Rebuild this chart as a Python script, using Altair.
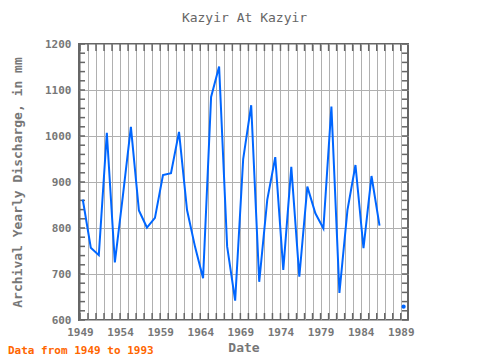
import altair as alt
import pandas as pd

# ---- data ----
years = list(range(1949, 1990))
discharge = [862, 757, 741, 1007, 725, 870, 1020, 838, 801, 822,
             915, 919, 1009, 839, 759, 691, 1085, 1151, 760, 642,
             950, 1067, 683, 861, 954, 709, 933, 694, 890, 832,
             799, 1064, 659, 839, 937, 756, 913, 805, None, None,
             629]
tick_years = list(range(1949, 1990))
label_years = list(range(1949, 1990, 5))
y_minor = list(range(600, 1201, 20))
y_major = list(range(600, 1201, 100))
title_text = "Kazyir At Kazyir"
note_text = "Data from 1949 to 1993"

W, H = 329, 276
FONT = "DejaVu Sans Mono"
GRAY = "#777777"
FRAME = "#666666"
BLUE = "#0066ff"

# build segments (break at missing years) and isolated points
rows = []
seg = 0
for y, v in zip(years, discharge):
    if v is None:
        seg += 1
        continue
    rows.append({"x": y + 0.35, "v": v, "seg": seg})
df = pd.DataFrame(rows)
counts = df.groupby("seg")["seg"].transform("count")
df_line = df[counts > 1]
df_pts = df[counts == 1]

xscale = alt.Scale(domain=[1948.88, 1989.9], nice=False, zero=False)
yscale = alt.Scale(domain=[600, 1200], nice=False, zero=False)

xaxis = alt.Axis(values=tick_years, grid=True, gridColor="#b0b0b0", gridWidth=1,
                 ticks=False, domain=False, labelFlush=False,
                 labelExpr="(datum.value - 1949) % 5 == 0 ? datum.label : ''",
                 format="d", labelFont=FONT, labelFontSize=11, labelFontWeight="bold",
                 labelColor=GRAY, labelPadding=6, title="Date", titleFont=FONT,
                 titleFontSize=13, titleFontWeight="bold", titleColor=GRAY,
                 titlePadding=4, labelOverlap=False)
yaxis = alt.Axis(values=y_major, grid=True, gridColor="#b0b0b0", gridWidth=1,
                 ticks=False, domain=False, labelFlush=False, format="d",
                 labelFont=FONT, labelFontSize=11,
                 labelFontWeight="bold", labelColor=GRAY, labelPadding=8,
                 title="Archival Yearly Discharge, in mm", titleFont=FONT,
                 titleFontSize=13, titleFontWeight="bold", titleColor=GRAY,
                 titlePadding=20)

line = alt.Chart(df_line).mark_line(color=BLUE, strokeWidth=2).encode(
    x=alt.X("x:Q", scale=xscale, axis=xaxis),
    y=alt.Y("v:Q", scale=yscale, axis=yaxis),
    detail="seg:N",
)
pts = alt.Chart(df_pts).mark_circle(color=BLUE, size=18, opacity=1).encode(
    x=alt.X("x:Q", scale=xscale, axis=xaxis),
    y=alt.Y("v:Q", scale=yscale, axis=yaxis),
)

xt = pd.DataFrame({"x": tick_years})
yt = pd.DataFrame({"v": y_minor})
tick_style = dict(color=FRAME, strokeWidth=1.5)
bottom_ticks = alt.Chart(xt).mark_rule(**tick_style).encode(
    x=alt.X("x:Q", scale=xscale, axis=xaxis), y=alt.value(H), y2=alt.value(H - 7))
top_ticks = alt.Chart(xt).mark_rule(**tick_style).encode(
    x=alt.X("x:Q", scale=xscale, axis=xaxis), y=alt.value(0), y2=alt.value(7))
left_ticks = alt.Chart(yt).mark_rule(**tick_style).encode(
    y=alt.Y("v:Q", scale=yscale, axis=yaxis), x=alt.value(0), x2=alt.value(6))
right_ticks = alt.Chart(yt).mark_rule(**tick_style).encode(
    y=alt.Y("v:Q", scale=yscale, axis=yaxis), x=alt.value(W), x2=alt.value(W - 6))

note = alt.Chart(pd.DataFrame({"t": [note_text]})).mark_text(
    align="left", baseline="middle", font=FONT, fontSize=11, fontWeight="bold",
    color="#ff6600").encode(text="t:N", x=alt.value(-71), y=alt.value(307))

title = alt.Chart(pd.DataFrame({"t": [title_text]})).mark_text(
    align="center", baseline="middle", font=FONT, fontSize=13,
    color="#666666").encode(text="t:N", x=alt.value(W / 2 + 1), y=alt.value(-26))

chart = alt.layer(bottom_ticks, top_ticks, left_ticks, right_ticks, line, pts,
                  note, title).properties(
    width=W, height=H,
    autosize=alt.AutoSizeParams(type="none"),
    padding={"left": 71, "top": 36, "right": 50, "bottom": 40},
).configure_view(stroke=FRAME, strokeWidth=2)

chart.save("out.html", embed_options={"renderer": "svg", "actions": False})
